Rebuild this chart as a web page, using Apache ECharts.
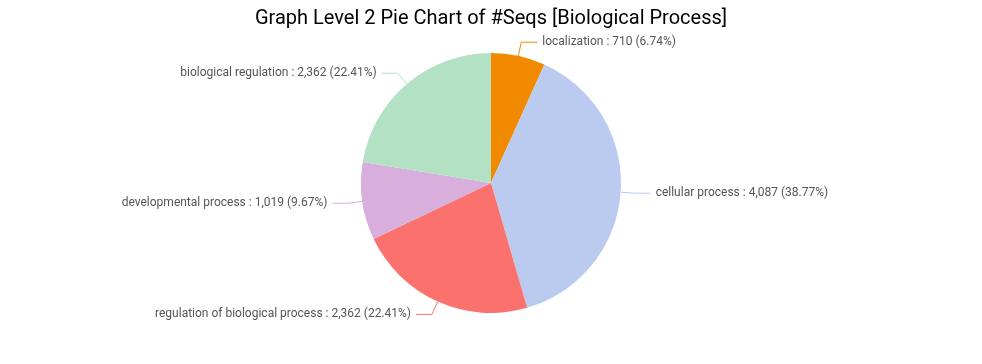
<!DOCTYPE html>
<html><head><meta charset="utf-8">
<script src="https://cdn.jsdelivr.net/npm/echarts@6/dist/echarts.min.js"></script>
<style>html,body{margin:0;padding:0;background:#fff}#c{width:982px;height:364px}</style>
</head><body><div id="c"></div>
<script>
const categories = ["localization", "cellular process", "regulation of biological process", "developmental process", "biological regulation"];
const values = [710, 4087, 2362, 1019, 2362];
const colors = ["#f28a00", "#bbcbf0", "#fb716d", "#d7aedc", "#b2e2c3"];
const titleText = "Graph Level 2 Pie Chart of #Seqs [Biological Process]";

const chart = echarts.init(document.getElementById('c'));
chart.setOption({
  animation: false,
  title: { text: titleText, left: 'center', top: 4, textStyle: { fontFamily: 'Roboto', fontSize: 20, fontWeight: 'normal', color: '#000' } },
  series: [{
    type: 'pie',
    center: [491, 183],
    radius: [0, 130],
    startAngle: 90,
    clockwise: true,
    data: categories.map((n, i) => ({ name: n, value: values[i], itemStyle: { color: colors[i] } })),
    label: {
      fontFamily: 'Roboto', fontSize: 12, color: '#555',
      padding: [0, 0, 5, 0],
      formatter: p => p.name + ' : ' + p.value.toLocaleString('en-US') + ' (' + p.percent.toFixed(2) + '%)'
    },
    labelLine: { length: 14, length2: 16, lineStyle: { width: 1 } },
    itemStyle: { borderWidth: 0 }
  }]
});
</script></body></html>
